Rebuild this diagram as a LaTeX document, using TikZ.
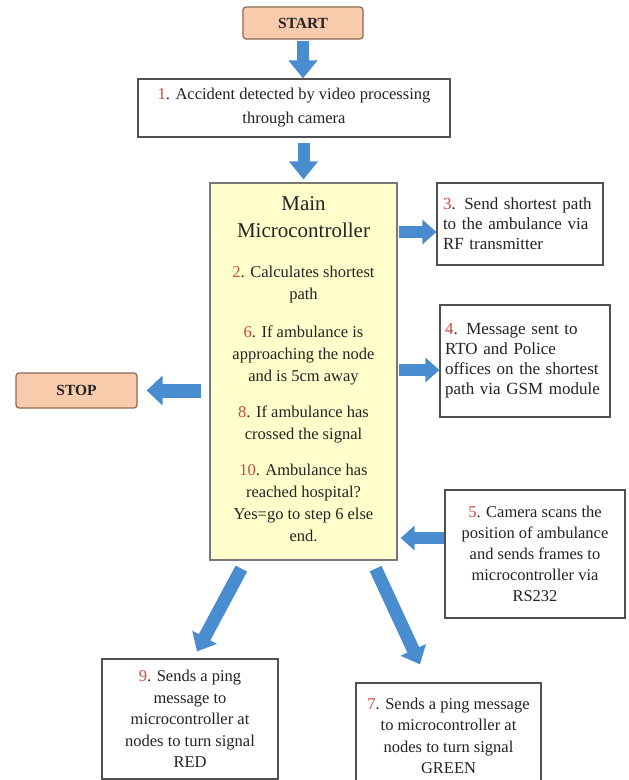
\documentclass[tikz,border=0pt]{standalone}
\usepackage{fontspec}
\setmainfont{Liberation Serif}
\usetikzlibrary{arrows.meta,calc}
\definecolor{termfill}{RGB}{248,203,173}
\definecolor{termline}{RGB}{140,105,85}
\definecolor{mainfill}{RGB}{255,255,204}
\definecolor{mainline}{RGB}{120,120,120}
\definecolor{boxline}{RGB}{80,80,80}
\definecolor{arrowblue}{RGB}{74,140,208}
\definecolor{numred}{RGB}{210,70,60}
\definecolor{txt}{RGB}{35,35,35}
\newcommand{\nr}[1]{\textcolor{numred}{#1}}
\begin{document}
\begin{tikzpicture}[x=1pt,y=-1pt,
  box/.style={draw=boxline, line width=1.2pt, fill=white, inner sep=0pt, text=txt,
    font=\fontsize{16.5}{20.5}\selectfont},
  term/.style={draw=termline, fill=termfill, rounded corners=3pt, line width=1.2pt,
    inner sep=0pt, text=txt, font=\bfseries\fontsize{15.5}{18}\selectfont},
  mainbox/.style={draw=mainline, fill=mainfill, line width=1.2pt, inner sep=0pt},
  vtxt/.style={inner sep=0pt, align=center, text=txt},
  varrow/.style={draw=arrowblue, line width=12pt, -{Triangle[length=18pt,width=28pt]}},
  harrow/.style={draw=arrowblue, line width=12pt, -{Triangle[length=14pt,width=24pt]}},
  darrow/.style={draw=arrowblue, line width=13pt, -{Triangle[length=16pt,width=27pt]}}
]
\useasboundingbox (0,0) rectangle (629,780);
\fill[white] (0,0) rectangle (629,780);

% nodes
\node[term, minimum width=120pt, minimum height=32pt] (start) at (303,23) {START};
\node[box, align=center, minimum width=312pt, minimum height=58pt,
  font=\fontsize{16.5}{24}\selectfont] (b1) at (294,108)
  {\nr{1}. Accident detected by video processing\\through camera};
\node[mainbox, minimum width=187pt, minimum height=377pt] (main) at (303.5,371.5) {};
\node[vtxt, font=\fontsize{21}{27}\selectfont] (mtitle) at (303.5,217)
  {Main\\Microcontroller};
\node[vtxt, font=\fontsize{16.5}{22}\selectfont] (mbody) at (303.5,404)
  {\nr{2}. Calculates shortest\\path\\[16pt]
   \nr{6}. If ambulance is\\approaching the node\\and is 5cm away\\[14pt]
   \nr{8}. If ambulance has\\crossed the signal\\[14pt]
   \nr{10}. Ambulance has\\reached hospital?\\Yes=go to step 6 else\\end.};
\node[box, align=left, inner xsep=6pt, text width=154pt, minimum height=82pt,
  font=\fontsize{17}{20}\selectfont] (b3) at (520,224)
  {\nr{3}. Send shortest path\\to the ambulance via\\RF transmitter};
\node[box, align=left, inner xsep=5pt, text width=160pt, minimum height=112pt,
  font=\fontsize{17}{20}\selectfont] (b4) at (525,361)
  {\nr{4}. Message sent to\\RTO and Police\\offices on the shortest\\path via GSM module};
\node[box, align=center, minimum width=180pt, minimum height=128pt,
  font=\fontsize{16.5}{21}\selectfont] (b5) at (535,554)
  {\nr{5}. Camera scans the\\position of ambulance\\and sends frames to\\microcontroller via\\RS232};
\node[term, minimum width=121pt, minimum height=35pt] (stop) at (76.5,390.5) {STOP};
\node[box, align=center, minimum width=176pt, minimum height=120pt,
  font=\fontsize{16.5}{21.5}\selectfont] (b9) at (190,719)
  {\nr{9}. Sends a ping\\message to\\microcontroller at\\nodes to turn signal\\RED};
\node[box, align=center, minimum width=185pt, minimum height=106pt,
  font=\fontsize{16.5}{21.5}\selectfont] (b7) at (448.5,736)
  {\nr{7}. Sends a ping message\\to microcontroller at\\nodes to turn signal\\GREEN};

% connectors
\draw[varrow, shorten <=1pt] (start.south) -- (start.south |- b1.north);
\draw[varrow, shorten <=5pt, shorten >=3pt] (main.north |- b1.south) -- (main.north);

\path (b3.west) ++(0,8) coordinate (c3);
\draw[harrow, shorten <=1pt] (main.east |- c3) -- (c3);
\path (b4.west) ++(0,9) coordinate (c4);
\draw[harrow, shorten <=1pt] (main.east |- c4) -- (c4);
\path (b5.west) ++(0,-16) coordinate (c5);
\draw[harrow, shorten >=3pt] (c5) -- (main.east |- c5);
\draw[darrow, line width=14pt, -{Triangle[length=16pt,width=29pt]}, shorten <=8pt, shorten >=9pt]
  (main.west |- stop.east) -- (stop.east);

\coordinate (t9) at ($(main.south west)+(32,8)$);
\coordinate (h9) at ($(b9.north)+(7,-7)$);
\draw[darrow] (t9) -- (h9);
\coordinate (t7) at ($(main.south east)+(-22,8)$);
\coordinate (h7) at ($(b7.north)+(-28.5,-18)$);
\draw[darrow] (t7) -- (h7);
\end{tikzpicture}
\end{document}
